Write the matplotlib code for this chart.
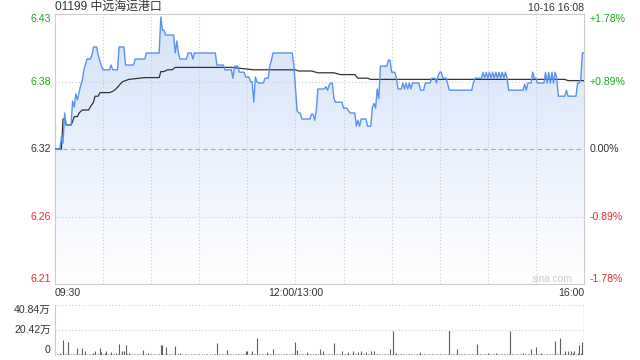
import numpy as np
import matplotlib
matplotlib.use('Agg')
import matplotlib.pyplot as plt
from matplotlib.colors import LinearSegmentedColormap

#************************GLOBAL PARAMETERS************************
plt.rcParams['font.family'] = ['Liberation Sans', 'Noto Sans CJK SC']
figW, figH = 640, 360
tickSize = 7.6
gridColor = '#cccccc'
dotted = (0, (1, 2))
upColor = '#1fa71f'
downColor = '#f02828'
textColor = '#333333'
lineColor = '#5a92ee'
avgColor = '#333333'
barColor = '#606060'

#************************DATA************************
stockTitle = '01199 中远海运港口'
stampText = '10-16 16:08'
prevClose = 6.32
pctLevels = [1.78, 0.89, 0.0, -0.89, -1.78]
timeLabels = ['09:30', '12:00/13:00', '16:00']
timeLabelMinutes = [0, 150, 330]
volTickLabels = ['40.84万', '20.42万', '0']
volTickValues = [40.84, 20.42, 0]

# minute index from 09:30 (lunch break removed), last price
priceMinutes = [0, 3, 4, 5, 6, 7, 10, 11, 12, 13, 14, 16, 17, 18, 20, 22, 23, 24, 26, 27,
	29, 30, 34, 35, 36, 39, 40, 43, 44, 49, 50, 56, 57, 65, 66, 67, 68, 69, 74, 75,
	76, 77, 78, 82, 83, 85, 86, 87, 100, 101, 105, 106, 110, 111, 112, 114, 115, 118, 119, 121,
	122, 123, 124, 125, 126, 127, 130, 131, 133, 134, 135, 136, 148, 149, 151, 152, 153, 154, 159, 160,
	161, 162, 163, 164, 168, 169, 170, 171, 172, 173, 174, 175, 179, 180, 182, 184, 187, 188, 189, 190,
	191, 194, 195, 197, 198, 199, 200, 201, 202, 203, 207, 208, 209, 210, 212, 213, 214, 216, 217, 218,
	219, 220, 221, 222, 223, 224, 227, 228, 230, 231, 234, 235, 237, 238, 239, 240, 241, 242, 244, 245,
	246, 260, 261, 262, 266, 267, 268, 269, 270, 271, 272, 273, 274, 275, 276, 277, 278, 279, 280, 281,
	282, 283, 292, 293, 294, 295, 297, 298, 299, 300, 301, 305, 306, 307, 308, 309, 310, 311, 312, 313,
	314, 318, 319, 320, 325, 326, 327, 328, 329, 330]
priceValues = [6.32, 6.32, 6.33, 6.325, 6.35, 6.34, 6.34, 6.36, 6.355, 6.366, 6.361, 6.373, 6.377, 6.386, 6.395, 6.395, 6.398, 6.405, 6.405, 6.398,
	6.389, 6.386, 6.386, 6.39, 6.386, 6.386, 6.405, 6.405, 6.39, 6.39, 6.395, 6.395, 6.40, 6.40, 6.43, 6.419, 6.419, 6.415, 6.415, 6.40,
	6.41, 6.40, 6.395, 6.395, 6.40, 6.40, 6.395, 6.40, 6.40, 6.39, 6.39, 6.386, 6.386, 6.379, 6.389, 6.389, 6.384, 6.384, 6.38, 6.38,
	6.376, 6.376, 6.359, 6.38, 6.376, 6.375, 6.375, 6.379, 6.379, 6.389, 6.394, 6.40, 6.40, 6.39, 6.352, 6.35, 6.35, 6.345, 6.345, 6.349,
	6.349, 6.344, 6.352, 6.37, 6.37, 6.372, 6.369, 6.373, 6.375, 6.375, 6.362, 6.359, 6.359, 6.354, 6.354, 6.35, 6.35, 6.339, 6.344, 6.339,
	6.345, 6.345, 6.339, 6.339, 6.355, 6.358, 6.354, 6.37, 6.362, 6.389, 6.389, 6.394, 6.394, 6.384, 6.384, 6.379, 6.37, 6.37, 6.375, 6.37,
	6.375, 6.37, 6.375, 6.37, 6.375, 6.375, 6.375, 6.369, 6.369, 6.375, 6.375, 6.379, 6.379, 6.375, 6.381, 6.384, 6.384, 6.379, 6.379, 6.374,
	6.369, 6.369, 6.375, 6.379, 6.379, 6.384, 6.379, 6.384, 6.379, 6.384, 6.379, 6.384, 6.379, 6.384, 6.379, 6.384, 6.379, 6.384, 6.379, 6.384,
	6.379, 6.369, 6.369, 6.374, 6.369, 6.375, 6.375, 6.384, 6.379, 6.379, 6.375, 6.375, 6.384, 6.375, 6.384, 6.375, 6.384, 6.375, 6.384, 6.379,
	6.364, 6.364, 6.369, 6.364, 6.364, 6.375, 6.375, 6.378, 6.40, 6.40]

avgMinutes = [0, 4, 5, 6, 7, 10, 11, 12, 14, 15, 17, 21, 22, 24, 25, 27, 28, 34, 36, 38,
	40, 42, 46, 56, 65, 66, 68, 70, 73, 75, 110, 124, 150, 152, 160, 164, 174, 178, 187, 189,
	195, 197, 318, 320, 330]
avgValues = [6.32, 6.32, 6.345, 6.345, 6.34, 6.34, 6.343, 6.347, 6.347, 6.35, 6.3525, 6.3525, 6.355, 6.359, 6.364, 6.364, 6.367, 6.367, 6.368, 6.37,
	6.373, 6.376, 6.378, 6.3795, 6.3795, 6.3845, 6.3845, 6.386, 6.386, 6.388, 6.388, 6.386, 6.386, 6.385, 6.385, 6.3835, 6.3835, 6.382, 6.382, 6.379,
	6.379, 6.378, 6.378, 6.377, 6.377]

# volume per minute, in 万 shares
volumes = [1.5, 0.8, 1.2, 2.0, 1.0, 12.2, 0.6, 0.9, 10.4, 0.7,
	0.5, 1.0, 0.8, 1.2, 5.7, 0.6, 0.9, 5.7, 1.0, 3.0,
	0.8, 0.5, 1.2, 0.7, 1.5, 3.5, 1.0, 0.8, 5.7, 2.2,
	0.9, 1.5, 3.0, 0.6, 1.2, 2.2, 0.8, 1.0, 1.5, 0.7,
	9.0, 1.2, 3.0, 3.5, 8.5, 0.9, 2.0, 0.6, 0.8, 1.0,
	0.5, 0.7, 1.2, 0.6, 0.8, 4.0, 0.9, 0.5, 1.5, 0.7,
	0.6, 0.8, 1.0, 0.5, 1.2, 0.8, 8.2, 8.5, 1.0, 6.3,
	0.8, 0.6, 1.2, 0.9, 0.7, 7.6, 0.8, 0.5, 1.5, 0.6,
	0.4, 0.6, 0.5, 0.8, 0.4, 0.7, 0.5, 0.6, 0.9, 0.5,
	0.6, 0.4, 0.8, 0.5, 0.7, 0.6, 0.4, 1.0, 0.5, 0.6,
	0.8, 10.0, 0.6, 0.5, 0.9, 0.7, 0.6, 4.0, 0.8, 0.5,
	0.6, 0.9, 0.5, 0.7, 0.6, 1.0, 0.8, 0.5, 1.2, 3.0,
	3.5, 0.8, 0.6, 3.0, 0.9, 0.7, 13.9, 0.8, 0.6, 1.0,
	0.7, 0.5, 2.2, 0.8, 0.6, 0.9, 4.9, 0.7, 0.5, 0.6,
	0.8, 0.5, 0.7, 0.6, 0.9, 0.5, 0.8, 0.6, 1.2, 0.9,
	10.9, 4.0, 0.8, 1.0, 0.7, 0.9, 0.6, 2.5, 0.8, 0.5,
	0.6, 0.9, 0.5, 0.7, 0.8, 4.9, 1.2, 3.0, 0.8, 0.6,
	1.0, 0.7, 0.9, 0.6, 9.5, 0.8, 0.5, 1.0, 0.7, 3.5,
	0.8, 0.6, 1.0, 2.5, 0.9, 0.7, 3.0, 0.8, 1.2, 2.5,
	0.6, 3.0, 0.8, 1.0, 2.5, 0.7, 0.9, 3.0, 0.6, 3.5,
	0.8, 1.0, 0.6, 0.9, 1.2, 0.7, 0.8, 0.6, 1.0, 4.9,
	0.8, 19.3, 0.9, 2.0, 0.7, 0.6, 1.0, 0.8, 0.5, 0.9,
	0.6, 0.8, 0.7, 1.0, 0.5, 0.9, 0.6, 0.8, 2.5, 0.7,
	0.6, 0.9, 0.8, 0.5, 1.0, 0.7, 0.6, 0.9, 0.8, 0.5,
	0.9, 0.7, 0.6, 1.0, 0.8, 0.5, 20.4, 0.9, 0.7, 0.6,
	1.0, 4.9, 0.8, 0.6, 0.9, 0.5, 0.7, 0.8, 0.6, 0.9,
	0.7, 0.5, 1.0, 9.0, 0.8, 0.6, 0.9, 0.7, 0.8, 1.0,
	2.0, 0.8, 0.6, 0.9, 1.0, 2.0, 0.7, 0.8, 1.2, 0.9,
	0.6, 1.0, 0.8, 0.7, 19.3, 0.9, 0.6, 0.8, 1.0, 0.7,
	0.8, 0.6, 1.5, 0.9, 0.7, 1.0, 0.8, 4.9, 0.6, 1.2,
	6.3, 0.9, 0.7, 1.5, 1.0, 0.8, 0.6, 1.2, 0.9, 0.8,
	1.0, 0.7, 11.1, 0.9, 1.2, 13.6, 1.0, 0.8, 3.5, 1.2,
	3.5, 1.0, 3.0, 1.5, 3.5, 1.2, 2.0, 8.5, 1.5, 10.4,
	40.0]

#************************SETUP************************
def px(x, y):
	return x / figW, 1 - y / figH

def labelColor(pct):
	if pct > 0:
		return upColor
	if pct < 0:
		return downColor
	return textColor

fig = plt.figure(figsize=(figW / 100, figH / 100), dpi=100)
axPrice = fig.add_axes([55 / figW, 1 - 284 / figH, 529 / figW, 270 / figH])
axVol = fig.add_axes([55 / figW, 1 - 355 / figH, 529 / figW, 50 / figH])
nMinutes = len(volumes) - 1

yTop = prevClose * (1 + pctLevels[0] / 100)
yBot = prevClose * (1 + pctLevels[-1] / 100)

#************************PRICE PANEL************************
axPrice.set_xlim(0, nMinutes)
axPrice.set_ylim(yBot, yTop)
poly = axPrice.fill_between(priceMinutes, priceValues, yBot, facecolor='none', edgecolor='none')
fillMap = LinearSegmentedColormap.from_list('fill', ['#ffffff', '#d4e2fa'])
grad = np.linspace(0, 1, 256).reshape(-1, 1)
img = axPrice.imshow(grad, extent=[0, nMinutes, yBot, yTop], origin='lower', aspect='auto', cmap=fillMap, zorder=1)
img.set_clip_path(poly.get_paths()[0], transform=axPrice.transData)
axPrice.set_xlim(0, nMinutes)
axPrice.set_ylim(yBot, yTop)

for m in range(30, nMinutes, 30):
	axPrice.axvline(m, color=gridColor, lw=0.8, ls=dotted, zorder=2)
for pct in pctLevels[1:-1]:
	lvl = prevClose * (1 + pct / 100)
	if pct == 0:
		axPrice.axhline(lvl, color='#aaaaaa', lw=0.8, ls=(0, (4, 3)), zorder=2)
	else:
		axPrice.axhline(lvl, color=gridColor, lw=0.8, ls=dotted, zorder=2)

axPrice.plot(priceMinutes, priceValues, color=lineColor, lw=1.0, zorder=4)
axPrice.plot(avgMinutes, avgValues, color=avgColor, lw=0.9, zorder=3)

for i, pct in enumerate(pctLevels):
	lvl = prevClose * (1 + pct / 100)
	va = 'top' if i == 0 else ('bottom' if i == len(pctLevels) - 1 else 'center')
	rightText = '0.00%' if pct == 0 else '{:+.2f}%'.format(pct)
	axPrice.annotate('{:.2f}'.format(lvl), xy=(0, lvl), xycoords=('axes fraction', 'data'), xytext=(-3, 0),
		textcoords='offset points', ha='right', va=va, fontsize=tickSize, color=labelColor(pct))
	axPrice.annotate(rightText, xy=(1, lvl), xycoords=('axes fraction', 'data'), xytext=(4, 0),
		textcoords='offset points', ha='left', va=va, fontsize=tickSize, color=labelColor(pct))

axPrice.set_xticks([])
axPrice.set_yticks([])
for s in axPrice.spines.values():
	s.set_color(gridColor)

for lab, m in zip(timeLabels, timeLabelMinutes):
	ha = 'left' if m == 0 else ('right' if m == nMinutes else 'center')
	axPrice.annotate(lab, xy=(m, 0), xycoords=('data', 'axes fraction'), xytext=(0, -6.5),
		textcoords='offset points', ha=ha, va='center', fontsize=tickSize, color=textColor)

#************************VOLUME PANEL************************
axVol.set_xlim(0, nMinutes)
axVol.set_ylim(0, volTickValues[0])
axVol.vlines(np.arange(len(volumes)), 0, volumes, color=barColor, lw=0.8)
for v in volTickValues[:-1]:
	axVol.axhline(v, color=gridColor, lw=0.8, ls=dotted)
for i, (lab, v) in enumerate(zip(volTickLabels, volTickValues)):
	va = 'top' if i == 0 else ('bottom' if i == len(volTickValues) - 1 else 'center')
	axVol.annotate(lab, xy=(0, v), xycoords=('axes fraction', 'data'), xytext=(-3, 0),
		textcoords='offset points', ha='right', va=va, fontsize=tickSize, color=textColor)
axVol.set_xticks([])
axVol.set_yticks([])
for name, s in axVol.spines.items():
	s.set_visible(name == 'left')
	s.set_color(gridColor)

#************************TEXTS************************
fig.text(*px(55, 7), stockTitle, ha='left', va='center', fontsize=8.6, color=textColor)
fig.text(*px(584, 8), stampText, ha='right', va='center', fontsize=tickSize, color=textColor)
fig.text(*px(573, 279), 'sina.com', ha='right', va='center', fontsize=7.4, color='#cfcfcf')

fig.savefig('out.png', dpi=100)
